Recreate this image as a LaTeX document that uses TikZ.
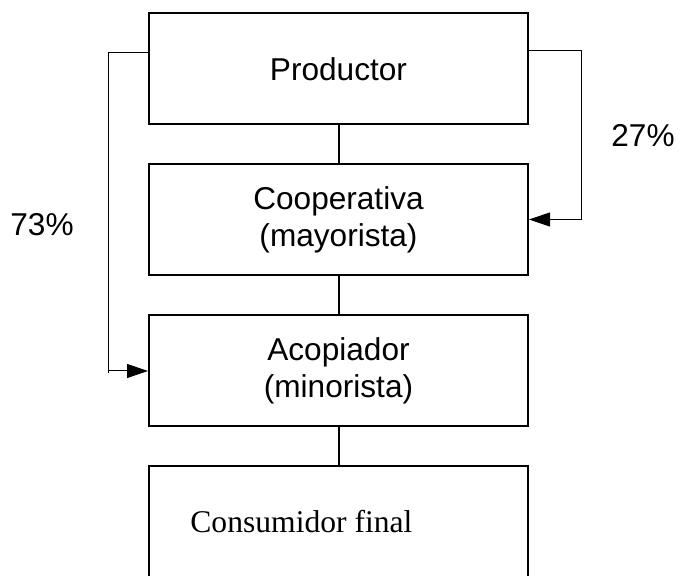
\documentclass[tikz,border=0pt]{standalone}
\usepackage{fontspec}
\setmainfont{Liberation Serif}
\newfontfamily\arialfam{Liberation Sans}
\usetikzlibrary{arrows.meta}
\def\boxfont{\arialfam\fontsize{15.8}{18.5}\selectfont}
\def\timesfont{\rmfamily\fontsize{15.8}{18.5}\selectfont}
\begin{document}
\begin{tikzpicture}[x=0.5pt,y=-0.5pt,
			box/.style={draw,line width=1pt,minimum width=189.5pt,minimum height=55.5pt,inner sep=0pt,align=center,font=\boxfont},
			link/.style={line width=1pt},
			feed/.style={line width=0.5pt},
			tip/.style={-{Triangle[length=10.5pt,width=7pt]}},
			pct/.style={font=\boxfont},
			lab/.style={anchor=base west,inner sep=0pt,font=\timesfont}]
			\useasboundingbox (0,0) rectangle (682,576);
			\clip (0,0) rectangle (682,576);
			\node [box]		(prod)	at (338.5,69)		{Productor};
			\node [box]		(coop)	at (338.5,219.5)	{Cooperativa\\(mayorista)};
			\node [box]		(acop)	at (338.5,371)		{Acopiador\\(minorista)};
			\node [box,minimum height=70pt,anchor=north]	(cons)	at (338.5,465)	{};
				\node [lab] (consl) at (190,533) {Consumidor final};
			\draw [link] (prod) -- (coop);
			\draw [link] (coop) -- (acop);
			\draw [link] (acop) -- (cons);
			\coordinate (lt) at (108,53);
			\coordinate (lb) at (108,373);
			\draw [feed] (lt -| prod.west) -- (lt) -- (lb);
			\draw [feed,tip] (lb |- acop.west) -- (acop.west);
				\node [pct] (p73) at (42,225) {73\%};
			\coordinate (rt) at (581,51);
			\draw [feed,tip] (rt -| prod.east) -- (rt) |- (coop.east);
				\node [pct] (p27) at (643,136) {27\%};
		\end{tikzpicture}
\end{document}
